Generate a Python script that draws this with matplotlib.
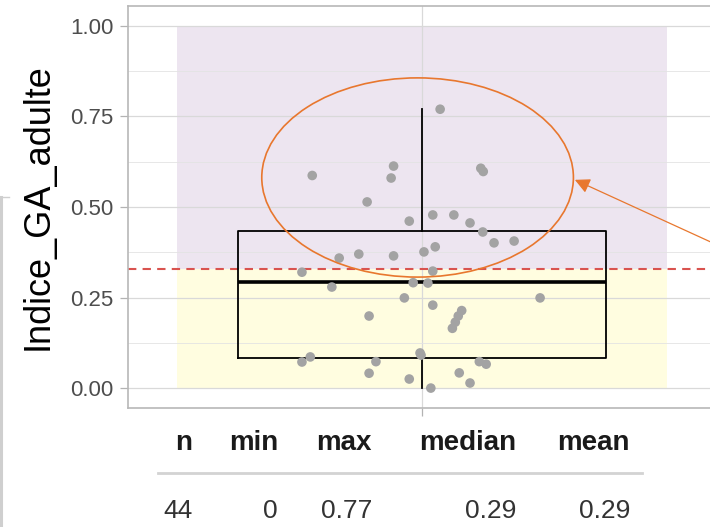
import numpy as np
import matplotlib
matplotlib.use("Agg")
import matplotlib.pyplot as plt
from matplotlib.patches import Rectangle, Ellipse
from matplotlib.lines import Line2D

plt.rcParams['font.family'] = ['Liberation Sans', 'DejaVu Sans']

# jittered points (x jitter around category 1, y = index value)
jitter_x = [1.037, 0.776, 0.942, 0.937, 0.888,
            1.022, 1.065, 0.974, 0.831, 0.871,
            0.942, 1.004, 1.027, 0.755, 1.022,
            0.816, 0.982, 1.012, 0.964, 1.022,
            0.892, 0.755, 0.772, 0.906, 0.892,
            0.974, 0.996, 1.018, 1.120, 1.125,
            1.098, 1.124, 1.147, 1.188, 1.241,
            1.081, 1.074, 1.068, 1.062, 1.117,
            1.131, 1.076, 1.098, 0.998]
index_values = [0.770, 0.587, 0.613, 0.580, 0.514,
                0.478, 0.478, 0.461, 0.359, 0.370,
                0.365, 0.376, 0.390, 0.320, 0.323,
                0.279, 0.291, 0.290, 0.249, 0.229,
                0.199, 0.072, 0.086, 0.073, 0.041,
                0.025, 0.097, 0.000, 0.607, 0.598,
                0.456, 0.431, 0.401, 0.406, 0.249,
                0.214, 0.199, 0.182, 0.165, 0.073,
                0.066, 0.042, 0.014, 0.091]

# boxplot summary as drawn
box_q1, box_med, box_q3 = 0.083, 0.293, 0.434
box_lo, box_hi = 0.0, 0.77

threshold = 0.33

table_headers = ['n', 'min', 'max', 'median', 'mean']
table_values = ['44', '0', '0.77', '0.29', '0.29']

W, H = 710, 527
fig = plt.figure(figsize=(W / 100, H / 100), dpi=100)
ax = fig.add_axes([128 / W, 1 - 408 / H, 588 / W, 402 / H])

ax.set_xlim(0.4, 1.6)
ax.set_ylim(-0.055, 1.055)

# background zones
ax.add_patch(Rectangle((0.5, threshold), 1.0, 1.0 - threshold,
                       facecolor='#ede5f0', edgecolor='none', zorder=0.2))
ax.add_patch(Rectangle((0.5, 0.0), 1.0, threshold,
                       facecolor='#fffde0', edgecolor='none', zorder=0.2))

ax.axhline(threshold, color='#d9534f', lw=1.5, ls=(0, (4, 3)), zorder=1)

stats = [dict(med=box_med, q1=box_q1, q3=box_q3,
              whislo=box_lo, whishi=box_hi, fliers=[])]
ax.bxp(stats, positions=[1], widths=0.75, showcaps=False, patch_artist=False,
       boxprops=dict(color='black', lw=1.3),
       whiskerprops=dict(color='black', lw=1.3),
       medianprops=dict(color='black', lw=2.6),
       manage_ticks=False, zorder=2)

ax.scatter(jitter_x, index_values, s=48, color='#a3a3a3', edgecolors='none', zorder=3)

# annotation
ax.add_patch(Ellipse((0.991, 0.5815), 0.636, 0.55, facecolor='none',
                     edgecolor='#e8772e', lw=1.2, zorder=4))
ax.annotate('', xy=(1.312, 0.575), xytext=(1.69, 0.341),
            arrowprops=dict(arrowstyle='-|>,head_length=0.9,head_width=0.45',
                            color='#e8772e', lw=0.9, mutation_scale=10,
                            shrinkA=0, shrinkB=0),
            annotation_clip=False, zorder=4)

# grid / axes styling
ax.set_yticks([0, 0.25, 0.5, 0.75, 1.0])
ax.set_yticklabels(['0.00', '0.25', '0.50', '0.75', '1.00'])
ax.set_yticks([0.125, 0.375, 0.625, 0.875], minor=True)
ax.set_xticks([1])
ax.set_xticklabels([''])
ax.set_axisbelow(True)
ax.grid(which='major', color='#d9d9d9', lw=0.9)
ax.grid(which='minor', axis='y', color='#e3e3e3', lw=0.6)
ax.tick_params(axis='both', which='major', length=5.5, width=0.9, color='#b3b3b3',
               labelcolor='#4d4d4d', labelsize=16, pad=5)
ax.tick_params(which='minor', length=0)
for sp in ax.spines.values():
    sp.set_color('#b8b8b8')
    sp.set_linewidth(1.2)

ax.set_ylabel('Indice_GA_adulte', fontsize=26, color='black', va='center')
ax.yaxis.set_label_coords(-0.153, 0.5)

# summary table under the plot
col_right = [192.5, 278, 372, 516, 630]
for xr, h, v in zip(col_right, table_headers, table_values):
    fig.text(xr / W, 1 - 450 / H, h, ha='right', va='baseline',
             fontsize=20, fontweight='bold', color='#1a1a1a')
    fig.text(xr / W, 1 - 518 / H, v, ha='right', va='baseline',
             fontsize=19, color='#333333')
fig.add_artist(Line2D([158 / W, 642 / W], [1 - 473 / H, 1 - 473 / H],
                      color='#d3d3d3', lw=2))

# screenshot frame remnant on the left
fig.add_artist(Line2D([1.5 / W, 1.5 / W], [0, 1 - 197 / H], color='#cfcfcf', lw=2.2))
fig.add_artist(Line2D([0, 9 / W], [1 - 197 / H, 1 - 197 / H], color='#cfcfcf', lw=1))

fig.savefig('out.png', dpi=100)
